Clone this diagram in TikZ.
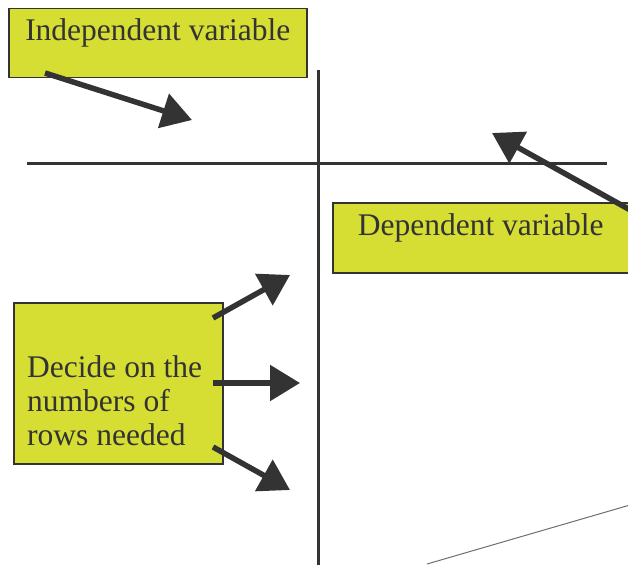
\documentclass[tikz,border=0pt]{standalone}
\usepackage{fontspec}
\setmainfont{Liberation Serif}
\usetikzlibrary{arrows.meta}
\definecolor{ink}{RGB}{51,51,51}
\definecolor{lime}{RGB}{214,222,52}
\definecolor{thin}{RGB}{110,110,110}
\begin{document}
\begin{tikzpicture}[x=1pt,y=-1pt,
  box/.style={draw=ink, line width=1.5pt, fill=lime, inner sep=0pt, anchor=north west,
              text=ink, font=\fontsize{31.5}{34}\selectfont},
  axisline/.style={draw=ink, line width=3pt},
  pointer/.style={draw=ink, line width=5.5pt, -{Triangle[length=30pt,width=35pt]}, fill=ink},
  thinline/.style={draw=thin, line width=1pt}
]
\useasboundingbox (0,0) rectangle (628,564);
% axes
\coordinate (vtop) at (318,70);
\coordinate (vbot) at (318,566);
\coordinate (hl) at (27,163);
\coordinate (hr) at (607,163);
\draw[axisline] (vtop) -- (vbot);
\draw[axisline] (hl) -- (hr);
% boxes
\node[box, minimum width=298pt, text height=32pt, text depth=37pt] (indep) at (8,8) {Independent variable};
\node[box, minimum width=296pt, text height=33pt, text depth=37pt] (dep) at (332,202) {Dependent variable};
\node[box, minimum width=209pt, minimum height=161pt] (dec) at (13,302) {};
\node[anchor=base west, inner sep=0pt, align=left, text=ink,
      font=\fontsize{31.5}{34}\selectfont] (dectext) at (27,445) {Decide on the\\numbers of\\rows needed};
% arrows
\coordinate (a1s) at (45,73);
\coordinate (a1t) at (192,120);
\coordinate (a2s) at (632,211);
\coordinate (a2t) at (492,133);
\coordinate (b1s) at (213,318);
\coordinate (b1t) at (290,275);
\coordinate (b2s) at (213,383);
\coordinate (b2t) at (300,383);
\coordinate (b3s) at (213,447);
\coordinate (b3t) at (290,490);
\draw[pointer] (a1s) -- (a1t);
\draw[pointer] (a2s) -- (a2t);
\draw[pointer] (b1s) -- (b1t);
\draw[pointer] (b2s) -- (b2t);
\draw[pointer] (b3s) -- (b3t);
% thin line
\coordinate (t1) at (427,564);
\coordinate (t2) at (630,505);
\draw[thinline] (t1) -- (t2);
\end{tikzpicture}
\end{document}
